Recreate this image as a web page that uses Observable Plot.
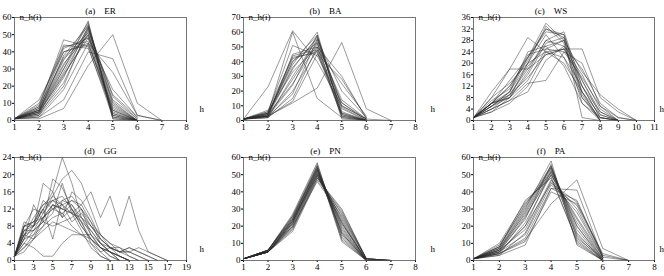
<!DOCTYPE html>
<html>
<head>
<meta charset="utf-8">
<script src="https://cdn.jsdelivr.net/npm/d3@7"></script>
<script src="https://cdn.jsdelivr.net/npm/@observablehq/plot@0.6"></script>
<style>
  body { margin: 0; background: #fff; }
  #wrap { position: relative; width: 664px; height: 276px; overflow: hidden; background: #fff; }
  #wrap > div { position: absolute; }
</style>
</head>
<body>
<div id="wrap"></div>
<script>
// ---- data: n_h(i) for h = 1, 2, 3, ... (one inner list per node i) ----
const titles = ["(a)\u00a0\u00a0\u00a0\u00a0ER", "(b)\u00a0\u00a0\u00a0\u00a0BA", "(c)\u00a0\u00a0\u00a0\u00a0WS",
                "(d)\u00a0\u00a0\u00a0\u00a0GG", "(e)\u00a0\u00a0\u00a0\u00a0PN", "(f)\u00a0\u00a0\u00a0\u00a0PA"];
const yLabel = "n_h(i)";
const xLabel = "h";

const ER_xTicks = [1, 2, 3, 4, 5, 6, 7, 8];
const ER_yTicks = [0, 10, 20, 30, 40, 50, 60];
const ER = [
  [1, 1, 7, 32, 50, 10, 0],
  [1, 2, 12, 40, 36, 3, 0],
  [1, 8, 47, 43, 2, 0],
  [1, 10, 44, 42, 5, 0],
  [1, 12, 40, 44, 8, 0],
  [1, 7, 42, 48, 4, 0],
  [1, 5, 38, 55, 3, 0],
  [1, 6, 35, 57, 2, 0],
  [1, 4, 30, 58, 1, 0],
  [1, 3, 25, 55, 10, 0],
  [1, 5, 28, 53, 12, 1],
  [1, 6, 33, 50, 9, 0],
  [1, 8, 36, 49, 6, 0],
  [1, 4, 22, 52, 15, 2],
  [1, 3, 20, 54, 14, 1],
  [1, 7, 40, 45, 6, 0],
  [1, 9, 43, 46, 3, 0],
  [1, 5, 32, 56, 4, 0],
  [1, 6, 37, 51, 7, 0],
  [1, 4, 27, 48, 18, 2],
  [1, 2, 18, 45, 28, 3, 0],
  [1, 6, 30, 54, 1, 0],
  [1, 5, 26, 50, 11, 0]
];

const BA_xTicks = [1, 2, 3, 4, 5, 6, 7, 8];
const BA_yTicks = [0, 10, 20, 30, 40, 50, 60, 70];
const BA = [
  [1, 23, 61, 40, 10, 1, 0],
  [1, 6, 51, 44, 12, 1],
  [1, 5, 60, 15, 2, 0],
  [1, 3, 12, 22, 53, 8, 0],
  [1, 3, 13, 45, 28, 2],
  [1, 4, 44, 48, 5, 0],
  [1, 3, 45, 50, 3, 0],
  [1, 4, 40, 58, 4, 0],
  [1, 5, 38, 60, 2, 0],
  [1, 3, 35, 57, 6, 0],
  [1, 2, 30, 55, 10, 1],
  [1, 4, 25, 52, 14, 1],
  [1, 6, 33, 50, 8, 0],
  [1, 3, 28, 53, 12, 0],
  [1, 5, 42, 47, 4, 0],
  [1, 2, 20, 48, 25, 3],
  [1, 3, 18, 55, 20, 2],
  [1, 7, 43, 46, 3, 0],
  [1, 4, 36, 56, 5, 0],
  [1, 2, 15, 50, 30, 1],
  [1, 5, 40, 53, 1, 0],
  [1, 3, 24, 58, 9, 0]
];

const WS_xTicks = [1, 2, 3, 4, 5, 6, 7, 8, 9, 10, 11];
const WS_yTicks = [0, 4, 8, 12, 16, 20, 24, 28, 32, 36];
const WS = [
  [1, 10, 18, 29, 24, 20, 10, 2, 0],
  [1, 8, 18, 18, 23, 25, 25, 8, 3, 0],
  [1, 4, 7, 13, 14, 24, 15, 5, 1, 0],
  [1, 6, 14, 22, 34, 28, 8, 1, 0],
  [1, 6, 12, 22, 32, 29, 1, 0],
  [1, 6, 8, 20, 33, 27, 6, 0],
  [1, 5, 10, 22, 31, 30, 10, 0],
  [1, 6, 9, 18, 28, 31, 12, 1, 0],
  [1, 5, 8, 16, 27, 29, 14, 2, 0],
  [1, 4, 7, 10, 21, 26, 18, 6, 1, 0],
  [1, 3, 6, 12, 24, 25, 16, 4, 0],
  [1, 6, 10, 20, 30, 22, 8, 0],
  [1, 5, 9, 19, 26, 28, 12, 1, 0],
  [1, 7, 11, 23, 25, 24, 20, 5, 0],
  [1, 6, 8, 17, 28, 26, 10, 0],
  [1, 4, 9, 15, 23, 25, 14, 3, 0],
  [1, 5, 10, 24, 26, 19, 6, 1, 0],
  [1, 3, 8, 14, 25, 28, 17, 9, 4, 0],
  [1, 6, 12, 21, 32, 30, 9, 0],
  [1, 8, 13, 20, 24, 22, 12, 3, 0]
];

const GG_xTicks = [1, 3, 5, 7, 9, 11, 13, 15, 17, 19];
const GG_yTicks = [0, 4, 8, 12, 16, 20, 24];
const GG = [
  [1, 8, 9, 12, 16, 24, 18, 10, 6, 3, 1, 0],
  [1, 6, 10, 13, 15, 19, 21, 18, 12, 6, 3, 1, 0],
  [1, 4, 3, 1, 1, 4, 6, 6, 6, 4, 2, 1, 0],
  [1, 7, 8, 10, 13, 12, 14, 13, 16, 10, 15, 8, 15, 7, 2, 1, 0],
  [1, 9, 8, 18, 16, 10, 12, 8, 5, 3, 1, 0],
  [1, 5, 13, 9, 19, 17, 12, 9, 4, 2, 0],
  [1, 8, 8, 12, 5, 14, 15, 12, 6, 3, 2, 0],
  [1, 6, 7, 11, 14, 13, 11, 10, 8, 5, 3, 3, 2, 1, 0],
  [1, 3, 6, 10, 12, 14, 13, 9, 7, 4, 3, 2, 3, 2, 1, 0],
  [1, 8, 9, 10, 13, 12, 11, 9, 5, 3, 2, 0],
  [1, 5, 8, 12, 14, 15, 12, 8, 5, 2, 3, 2, 3, 2, 1, 0],
  [1, 7, 7, 9, 11, 18, 11, 13, 9, 4, 2, 1, 0],
  [1, 2, 5, 8, 13, 10, 16, 14, 10, 5, 3, 2, 2, 3, 2, 1, 0],
  [1, 6, 5, 10, 12, 11, 8, 6, 4, 1, 0],
  [1, 8, 12, 11, 15, 13, 14, 12, 9, 6, 4, 2, 2, 1, 0],
  [1, 4, 7, 9, 8, 9, 10, 12, 8, 6, 4, 3, 1, 0],
  [1, 7, 9, 13, 14, 12, 11, 7, 3, 1, 0],
  [1, 5, 6, 8, 10, 11, 13, 10, 7, 4, 2, 1, 0],
  [1, 3, 5, 7, 9, 8, 7, 6, 5, 3, 2, 1, 0],
  [1, 6, 8, 14, 12, 13, 9, 11, 8, 5, 3, 2, 1, 0]
];

const PN_xTicks = [1, 2, 3, 4, 5, 6, 7, 8];
const PN_yTicks = [0, 10, 20, 30, 40, 50, 60];
const PN = [
  [1, 5, 17, 47, 28, 1, 0],
  [1, 5, 18, 48, 30, 1, 0],
  [1, 5, 19, 49, 27, 1, 0],
  [1, 5, 20, 50, 25, 1, 0],
  [1, 5, 21, 51, 24, 0, 0],
  [1, 5, 22, 52, 22, 0, 0],
  [1, 6, 23, 53, 20, 0, 0],
  [1, 6, 24, 54, 18, 0, 0],
  [1, 6, 25, 55, 16, 0, 0],
  [1, 6, 26, 56, 14, 0, 0],
  [1, 6, 27, 57, 12, 0, 0],
  [1, 5, 22, 50, 21, 1, 0],
  [1, 5, 23, 52, 19, 0, 0],
  [1, 5, 24, 51, 17, 0, 0],
  [1, 6, 25, 53, 15, 0, 0],
  [1, 5, 20, 46, 26, 1, 0],
  [1, 5, 21, 49, 23, 0, 0],
  [1, 6, 26, 54, 13, 0, 0],
  [1, 5, 19, 48, 29, 1, 0],
  [1, 6, 24, 55, 11, 0, 0],
  [1, 5, 22, 53, 16, 0, 0],
  [1, 5, 23, 50, 22, 0, 0]
];

const PA_xTicks = [1, 2, 3, 4, 5, 6, 7, 8];
const PA_yTicks = [0, 10, 20, 30, 40, 50, 60];
const PA = [
  [1, 3, 9, 42, 41, 2, 0],
  [1, 4, 12, 33, 47, 7, 0],
  [1, 5, 20, 45, 34, 3, 0],
  [1, 8, 35, 48, 12, 0],
  [1, 9, 32, 55, 10, 0],
  [1, 7, 30, 58, 9, 0],
  [1, 6, 28, 54, 15, 1],
  [1, 5, 25, 52, 20, 1],
  [1, 4, 22, 50, 25, 2],
  [1, 6, 18, 47, 30, 2],
  [1, 5, 15, 44, 32, 3],
  [1, 4, 13, 42, 35, 2],
  [1, 7, 27, 53, 18, 0],
  [1, 8, 33, 51, 14, 0],
  [1, 10, 34, 49, 11, 0],
  [1, 6, 24, 56, 13, 1],
  [1, 5, 20, 52, 22, 1],
  [1, 3, 16, 46, 28, 2],
  [1, 7, 29, 55, 16, 0],
  [1, 6, 26, 50, 24, 1],
  [1, 4, 11, 40, 33, 4, 0],
  [1, 8, 31, 54, 20, 0]
];

// ---- layout ----
const panels = [
  {series: ER, xt: ER_xTicks, yt: ER_yTicks, left: 0,   top: 0,   w: 221, ml: 14, mr: 35, mt: 17, mb: 18, tdx: 0,   hdx: 13},
  {series: BA, xt: BA_xTicks, yt: BA_yTicks, left: 221, top: 0,   w: 221, ml: 22, mr: 27, mt: 17, mb: 18, tdx: -4,  hdx: 15},
  {series: WS, xt: WS_xTicks, yt: WS_yTicks, left: 442, top: 0,   w: 222, ml: 31, mr: 10, mt: 17, mb: 18, tdx: -13, hdx: 5},
  {series: GG, xt: GG_xTicks, yt: GG_yTicks, left: 0,   top: 138, w: 221, ml: 14, mr: 35, mt: 19, mb: 16, tdx: 0,   hdx: 13},
  {series: PN, xt: PN_xTicks, yt: PN_yTicks, left: 221, top: 138, w: 221, ml: 22, mr: 27, mt: 19, mb: 16, tdx: -4,  hdx: 15},
  {series: PA, xt: PA_xTicks, yt: PA_yTicks, left: 442, top: 138, w: 222, ml: 31, mr: 10, mt: 19, mb: 16, tdx: -13, hdx: 5}
];

const wrap = document.getElementById("wrap");
panels.forEach((p, idx) => {
  const rows = p.series.flatMap((s, k) => s.map((v, i) => ({h: i + 1, v, k})));
  const svg = Plot.plot({
    width: p.w, height: 138,
    marginLeft: p.ml, marginRight: p.mr, marginTop: p.mt, marginBottom: p.mb,
    style: {fontFamily: "'Liberation Serif', 'Times New Roman', serif", fontSize: "9px", background: "#fff", color: "#000", overflow: "visible"},
    x: {domain: [p.xt[0], p.xt[p.xt.length - 1]], ticks: p.xt, tickSize: 2, tickPadding: 1, label: null, tickFormat: d => String(d)},
    y: {domain: [p.yt[0], p.yt[p.yt.length - 1]], ticks: p.yt, tickSize: 2, tickPadding: 1, label: null, tickFormat: d => String(d)},
    marks: [
      Plot.line(rows, {x: "h", y: "v", z: "k", stroke: "#2a2a2a", strokeWidth: 0.6, strokeOpacity: 0.8}),
      Plot.frame({stroke: "#555", strokeWidth: 0.8}),
      Plot.text([titles[idx]], {text: d => d, frameAnchor: "top", dy: -10, dx: p.tdx, fontSize: 9, fill: "#000"}),
      Plot.text([yLabel], {text: d => d, frameAnchor: "top-left", textAnchor: "start", dx: 5, dy: -4, fontSize: 9, fill: "#000"}),
      Plot.text([xLabel], {text: d => d, frameAnchor: "bottom-right", textAnchor: "start", dx: p.hdx, dy: -9, fontSize: 9, fill: "#000"})
    ]
  });
  const div = document.createElement("div");
  div.style.left = p.left + "px";
  div.style.top = p.top + "px";
  div.appendChild(svg);
  wrap.appendChild(div);
});
</script>
</body>
</html>
